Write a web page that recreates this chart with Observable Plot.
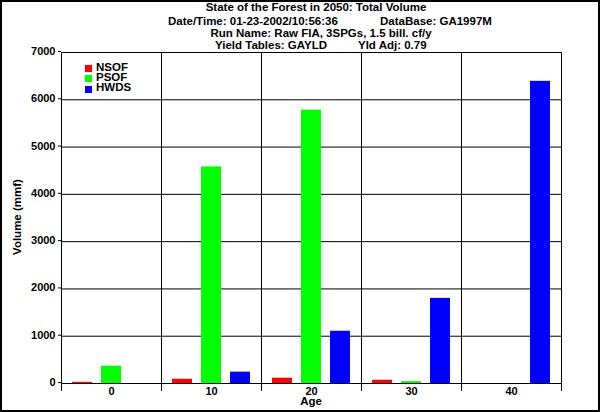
<!DOCTYPE html>
<html><head><meta charset="utf-8">
<script src="https://cdn.jsdelivr.net/npm/d3@7"></script>
<script src="https://cdn.jsdelivr.net/npm/@observablehq/plot@0.6"></script>
<style>
body{margin:0;background:#fff;}
#wrap{position:relative;width:600px;height:412px;font-family:"Liberation Sans",Arial,sans-serif;font-weight:bold;color:#000;overflow:hidden;background:#fff}
#chart svg{position:absolute;left:0;top:0}
.t{position:absolute;white-space:nowrap;font-size:11.5px;line-height:1}
.c{transform:translateX(-50%)}
#border{position:absolute;left:0;top:0;width:600px;height:412px;box-sizing:border-box;border:2px solid #000;pointer-events:none}
.sw{position:absolute;width:7px;height:7px}
</style></head><body>
<div id="wrap"><div id="chart"></div><div id="overlay"></div><div id="border"></div></div>
<script>
// ---- data ----
const ages = [0, 10, 20, 30, 40];
const seriesNames = ["NSOF", "PSOF", "HWDS"];
const seriesColors = ["#ff0000", "#00ff00", "#0000ff"];
const nsof = [25, 90, 112, 68, 0];
const psof = [366, 4580, 5780, 40, 0];
const hwds = [0, 240, 1105, 1800, 6390];
const yTicks = [0, 1000, 2000, 3000, 4000, 5000, 6000, 7000];
const titleLine1 = "State of the Forest in 2050: Total Volume";
const titleLine2a = "Date/Time: 01-23-2002/10:56:36";
const titleLine2b = "DataBase: GA1997M";
const titleLine3 = "Run Name: Raw FIA, 3SPGs, 1.5 bill. cf/y";
const titleLine4a = "Yield Tables: GAYLD";
const titleLine4b = "Yld Adj: 0.79";
const xLabel = "Age";
const yLabel = "Volume (mmf)";

const valuesBySeries = {NSOF: nsof, PSOF: psof, HWDS: hwds};
const rows = [];
ages.forEach((a, i) => seriesNames.forEach(s => rows.push({age: a, series: s, value: valuesBySeries[s][i]})));

const plot = Plot.plot({
  width: 600, height: 412,
  marginLeft: 60, marginRight: 38, marginTop: 52, marginBottom: 29,
  style: {fontFamily: '"Liberation Sans", Arial, sans-serif', fontWeight: "bold", fontSize: "11px", color: "#000", background: "transparent", overflow: "visible"},
  fx: {domain: ages, padding: 0, label: null},
  x: {domain: seriesNames, paddingInner: 0.3, paddingOuter: 0.32, axis: null},
  y: {domain: [0, 7000]},
  color: {domain: seriesNames, range: seriesColors},
  marks: [
    Plot.gridY(yTicks, {stroke: "#000", strokeOpacity: 1, strokeWidth: 1}),
    Plot.frame({anchor: "left", insetBottom: -7, stroke: "#000", strokeWidth: 1}),
    Plot.frame({anchor: "right", insetBottom: -7, stroke: "#000", strokeWidth: 1, facet: "super"}),
    Plot.barY(rows, {fx: "age", x: "series", y: "value", fill: "series"}),
    Plot.ruleY([0], {stroke: "#000", strokeWidth: 1}),
    Plot.axisY(yTicks, {tickSize: 3, tickPadding: 3, tickFormat: d => String(d), label: null, stroke: "#000", fill: "#000", fontWeight: "bold", fontSize: 11, dy: -1}),
    Plot.axisFx({anchor: "bottom", tickSize: 0, tickPadding: 4, label: null, fill: "#000", fontWeight: "bold", fontSize: 11})
  ]
});
document.getElementById("chart").appendChild(plot);

// ---- text overlay ----
const ov = document.getElementById("overlay");
function addText(txt, left, top, cls, extra) {
  const d = document.createElement("div");
  d.className = "t " + (cls || "");
  d.textContent = txt;
  d.style.left = left + "px";
  d.style.top = top + "px";
  if (extra) Object.assign(d.style, extra);
  ov.appendChild(d);
  return d;
}
addText(titleLine1, 316, 2.3, "c");
addText(titleLine2a, 168, 15.8);
addText(titleLine2b, 380, 15.8);
addText(titleLine3, 321, 27.8, "c");
addText(titleLine4a, 215, 39.8);
addText(titleLine4b, 358, 39.8);
addText(xLabel, 311, 397.8, "c", {lineHeight: "6px", height: "6px"});
addText(yLabel, 12, 217, "", {transform: "translate(-50%,-50%) rotate(-90deg)", left: "18px"});

// legend: swatches + one multi-line label block
seriesNames.forEach((s, i) => {
  const sw = document.createElement("div");
  sw.className = "sw";
  sw.style.left = "85px";
  sw.style.top = (65 + i * 10.3) + "px";
  sw.style.background = seriesColors[i];
  ov.appendChild(sw);
});
const lg = addText("", 96, 61.5, "", {lineHeight: "10.3px", whiteSpace: "pre"});
lg.textContent = seriesNames.join("\n");
</script>
</body></html>
